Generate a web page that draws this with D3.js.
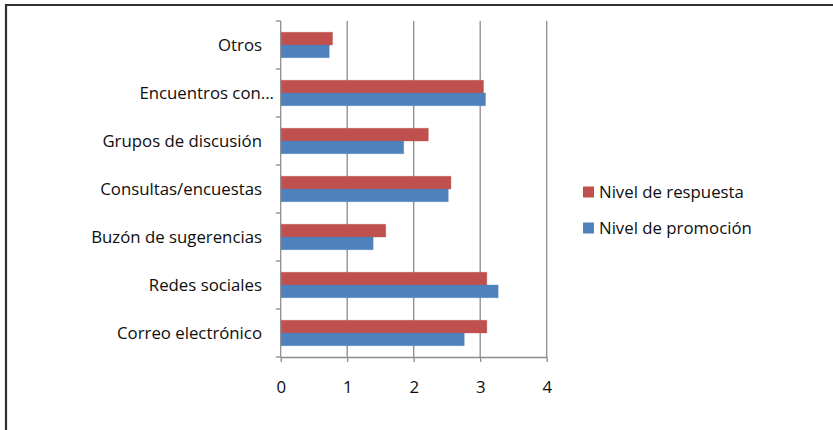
<!DOCTYPE html>
<html><head><meta charset="utf-8">
<script src="https://cdn.jsdelivr.net/npm/d3@7/dist/d3.min.js"></script>
<style>body{margin:0;background:#fff}svg{display:block}text{font-family:"Open Sans",sans-serif;fill:#0d0d0d}</style>
</head><body><svg id="c" width="833" height="430"></svg>
<script>
const categories = ["Otros","Encuentros con...","Grupos de discusión","Consultas/encuestas","Buzón de sugerencias","Redes sociales","Correo electrónico"];
const respuesta = [0.78, 3.05, 2.22, 2.56, 1.58, 3.10, 3.10];
const promocion = [0.73, 3.08, 1.85, 2.52, 1.39, 3.27, 2.76];
const seriesNames = ["Nivel de respuesta","Nivel de promoción"];
const colors = ["#C0504D","#4F81BD"];
const xTicks = [0,1,2,3,4];

const FS = "16.8px";
const svg = d3.select("#c");
// frame
svg.append("line").attr("x1",5).attr("x2",833).attr("y1",5).attr("y2",5).attr("stroke","#2e3133").attr("stroke-width",2.2);
svg.append("line").attr("x1",6).attr("x2",6).attr("y1",4).attr("y2",430).attr("stroke","#2e3133").attr("stroke-width",2.2);

const L=280.7, R=546.7, T=21, B=357;
const x = d3.scaleLinear().domain([0,4]).range([L,R]);
const y = d3.scaleBand().domain(categories).range([T,B]);
const sub = d3.scaleBand().domain([0,1]).range([0,y.bandwidth()]).paddingOuter(0.88).paddingInner(0);

// gridlines
svg.append("g").selectAll("line").data(xTicks.slice(1)).join("line")
  .attr("x1",d=>x(d)).attr("x2",d=>x(d)).attr("y1",T).attr("y2",B)
  .attr("stroke","#8c8c8c").attr("stroke-width",1.3);

// bars
const data = categories.map((c,i)=>({c, v:[respuesta[i], promocion[i]]}));
const g = svg.append("g");
data.forEach(d=>{
  d.v.forEach((v,s)=>{
    g.append("rect").attr("x",x(0)).attr("y",y(d.c)+sub(s))
     .attr("width",x(v)-x(0)).attr("height",sub.bandwidth())
     .attr("fill",colors[s]).attr("stroke",colors[s]).attr("stroke-opacity",0.4).attr("stroke-width",0.8);
  });
});

// x axis
const xa = svg.append("g").attr("transform",`translate(0,${B})`)
  .call(d3.axisBottom(x).tickValues(xTicks).tickSize(5).tickPadding(19).tickFormat(d3.format("d")));
xa.select(".domain").attr("stroke","#8c8c8c").attr("stroke-width",1.3).attr("d",`M${L},0.5H${R}`);
xa.selectAll(".tick line").attr("stroke","#8c8c8c").attr("stroke-width",1.3);
xa.selectAll("text").attr("font-size",FS).attr("font-family","Open Sans").attr("fill","#0d0d0d");

// y axis
const boundaries = d3.range(categories.length+1).map(i=>T+i*y.step());
svg.append("line").attr("x1",L).attr("x2",L).attr("y1",T).attr("y2",B).attr("stroke","#8c8c8c").attr("stroke-width",1.3);
svg.append("g").selectAll("line").data(boundaries).join("line")
  .attr("x1",L-5).attr("x2",L).attr("y1",d=>d).attr("y2",d=>d)
  .attr("stroke","#8c8c8c").attr("stroke-width",1.3);
svg.append("g").selectAll("text").data(categories).join("text")
  .attr("x",(d,i)=> i===1 ? 274 : 262).attr("y",d=>y(d)+y.bandwidth()/2).attr("dy","0.35em")
  .attr("text-anchor","end").attr("font-size",FS).text(d=>d);

// legend
const lg = svg.append("g");
seriesNames.forEach((n,i)=>{
  const yy = 192 + i*36;
  lg.append("rect").attr("x",583).attr("y",yy-5.5).attr("width",11).attr("height",11).attr("fill",colors[i]);
  lg.append("text").attr("x",599).attr("y",yy).attr("dy","0.35em").attr("font-size",FS).text(n);
});
</script></body></html>
